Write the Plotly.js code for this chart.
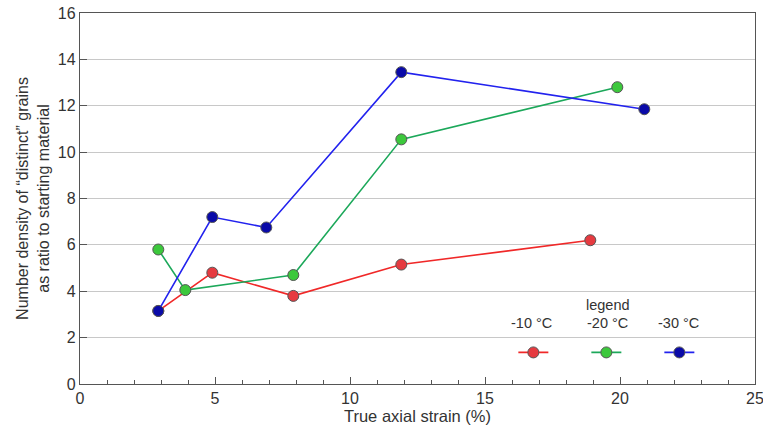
<!DOCTYPE html>
<html><head><meta charset="utf-8">
<script src="https://cdn.plot.ly/plotly-3.0.1.min.js"></script>
<style>html,body{margin:0;padding:0;background:#fff}</style>
</head><body><div id="chart" style="width:763px;height:430px"></div>
<script>
const seriesNames = ['-10 °C', '-20 °C', '-30 °C'];
const strain10 = [2.9, 4.9, 7.9, 11.9, 18.9];
const density10 = [3.15, 4.8, 3.8, 5.15, 6.2];
const strain20 = [2.9, 3.9, 7.9, 11.9, 19.9];
const density20 = [5.8, 4.05, 4.7, 10.55, 12.8];
const strain30 = [2.9, 4.9, 6.9, 11.9, 20.9];
const density30 = [3.15, 7.2, 6.75, 13.45, 11.85];

const lineColors = ['#f02828', '#1ca85a', '#2222ee'];
const fillColors = ['#e63a40', '#3cc83c', '#0a0aa8'];
const xs = [strain10, strain20, strain30];
const ys = [density10, density20, density30];

const traces = xs.map((x, i) => ({
  x: x, y: ys[i], type: 'scatter', mode: 'lines+markers', name: seriesNames[i],
  line: {color: lineColors[i], width: 1.6},
  marker: {color: fillColors[i], size: 11, line: {color: '#555', width: 1}}
}));

const font = 'Liberation Sans, Arial, sans-serif';
const labelFont = {size: 14.5, color: '#333'};
const layout = {
  width: 763, height: 430,
  margin: {l: 80, r: 8, t: 13, b: 46, autoexpand: false},
  paper_bgcolor: '#fff', plot_bgcolor: '#fff',
  font: {family: font, color: '#333'},
  showlegend: true,
  legend: {
    orientation: 'h', x: 0.642, y: 0.085, xanchor: 'left', yanchor: 'middle',
    entrywidth: 28, entrywidthmode: 'pixels', tracegroupgap: 0,
    font: {size: 13, color: 'rgba(0,0,0,0)'}, bgcolor: 'rgba(0,0,0,0)'
  },
  xaxis: {
    range: [0, 25], tickvals: [0, 5, 10, 15, 20, 25], ticklabeloverflow: 'allow',
    ticks: 'inside', ticklen: 7, tickcolor: '#555', tickwidth: 1,
    minor: {dtick: 1, ticks: 'inside', ticklen: 4, tickcolor: '#555', showgrid: false},
    showline: true, linecolor: '#555', linewidth: 1.2, mirror: true,
    showgrid: false, zeroline: false,
    tickfont: {size: 16, color: '#333'},
    title: {text: 'True axial strain (%)', font: {size: 16.5, color: '#333'}, standoff: 4}
  },
  yaxis: {
    range: [0, 16], dtick: 2,
    ticks: 'inside', ticklen: 7, tickcolor: '#555', tickwidth: 1,
    showline: true, linecolor: '#555', linewidth: 1.2, mirror: true,
    showgrid: true, gridcolor: '#c8c8c8', gridwidth: 1, zeroline: false,
    tickfont: {size: 16, color: '#333'},
    title: {text: 'Number density of \u201cdistinct\u201d grains<br>as ratio to starting material', font: {size: 16, color: '#333'}, standoff: 4}
  },
  annotations: [
    {xref: 'paper', yref: 'paper', x: 0.7817, y: 0.213, xanchor: 'center', yanchor: 'middle', text: 'legend', showarrow: false, font: labelFont},
    {xref: 'paper', yref: 'paper', x: 0.6696, y: 0.1644, xanchor: 'center', yanchor: 'middle', text: seriesNames[0], showarrow: false, font: labelFont},
    {xref: 'paper', yref: 'paper', x: 0.7815, y: 0.1644, xanchor: 'center', yanchor: 'middle', text: seriesNames[1], showarrow: false, font: labelFont},
    {xref: 'paper', yref: 'paper', x: 0.8874, y: 0.1644, xanchor: 'center', yanchor: 'middle', text: seriesNames[2], showarrow: false, font: labelFont}
  ]
};
Plotly.newPlot('chart', traces, layout, {displayModeBar: false, staticPlot: true});
</script></body></html>
